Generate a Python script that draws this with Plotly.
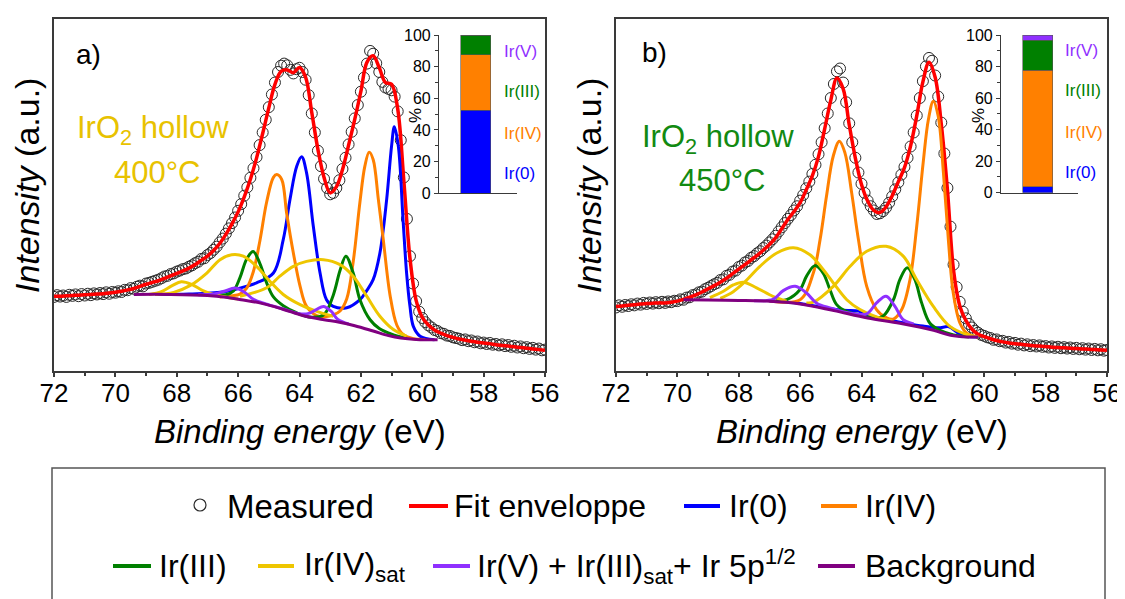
import plotly.graph_objects as go

W, H = 1125, 599
OFF = 8  # page body margin of the browser
def X(px): return (px - OFF) / W
def Y(py): return 1 - (py - OFF) / H

FONT = "Liberation Sans, Arial, sans-serif"
BLUE, ORANGE, GREEN, YELLOW = "#0000FF", "#FF8000", "#008000", "#EEC600"
VIOLET, PURPLE, RED = "#9030FF", "#800080", "#FF0000"

# ---------------- data ----------------
energy = [round(72 - 0.1 * i, 1) for i in range(161)]       # measured grid (eV)
fit_energy = [round(72 - 0.2 * i, 1) for i in range(81)]    # fit grid (eV)

measured_a = [21.0, 21.5, 21.1, 21.4, 21.0, 21.6, 21.3, 21.7, 21.2, 21.8,
              21.4, 21.9, 21.5, 22.0, 21.7, 22.1, 21.8, 22.3, 21.9, 22.4,
              22.2, 22.6, 22.4, 23.0, 22.9, 23.5, 23.3, 23.9, 24.2, 24.0,
              24.8, 25.0, 25.3, 25.6, 25.9, 26.3, 26.8, 27.0, 27.5, 27.7,
              28.2, 28.5, 28.9, 29.1, 29.6, 30.0, 30.6, 31.0, 31.8, 32.0,
              32.9, 33.5, 34.4, 35.3, 36.5, 37.6, 39.0, 40.5, 42.0, 43.6,
              45.5, 47.4, 49.8, 52.2, 54.9, 57.6, 60.8, 64.2, 67.8, 71.4,
              75.0, 78.6, 82.0, 85.0, 86.8, 87.4, 86.9, 85.6, 84.6, 85.8,
              86.2, 85.0, 82.8, 78.4, 73.2, 67.8, 62.6, 58.2, 54.6, 52.0,
              50.2, 50.6, 52.0, 54.2, 57.4, 60.6, 64.4, 68.0, 71.8, 75.6,
              79.4, 83.4, 87.4, 91.0, 90.2, 87.5, 85.0, 82.2, 80.6, 80.2,
              79.8, 78.0, 73.8, 65.6, 55.0, 43.2, 32.6, 24.8, 19.8, 16.8,
              15.0, 13.8, 12.9, 12.3, 11.6, 11.3, 10.7, 10.5, 10.0, 9.9,
              9.5, 9.3, 9.1, 8.7, 8.9, 8.4, 8.6, 8.1, 8.3, 7.8,
              8.0, 7.6, 7.9, 7.4, 7.6, 7.2, 7.5, 7.0, 7.3, 6.8,
              7.1, 6.6, 6.9, 6.4, 6.7, 6.2, 6.5, 6.0, 6.3, 5.8,
              6.0]
fit_a = [21.2, 21.2, 21.3, 21.4, 21.5, 21.6, 21.7, 21.8, 21.9, 22.1,
         22.3, 22.6, 23.0, 23.4, 24.0, 24.6, 25.1, 25.6, 26.3, 27.0,
         27.7, 28.4, 29.2, 30.2, 31.4, 32.6, 34.2, 36.2, 38.8, 41.8,
         45.2, 49.5, 54.5, 60.5, 67.5, 74.8, 81.5, 85.2, 85.6, 84.8,
         86.3, 83.5, 73.5, 63.0, 55.0, 50.6, 52.3, 57.2, 64.2, 71.5,
         79.5, 87.8, 89.6, 86.2, 82.0, 81.5, 74.5, 54.0, 32.0, 20.0,
         15.2, 13.0, 11.6, 10.7, 10.0, 9.5, 9.0, 8.7, 8.4, 8.1,
         7.9, 7.7, 7.4, 7.2, 7.0, 6.8, 6.6, 6.4, 6.2, 6.0,
         5.8]

measured_b = [18.0, 18.6, 18.2, 18.7, 18.4, 18.9, 18.6, 19.1, 18.8, 19.3,
              19.0, 19.4, 19.1, 19.5, 19.2, 19.6, 19.3, 19.7, 19.5, 19.9,
              19.8, 20.3, 20.2, 20.8, 20.9, 21.5, 21.7, 22.3, 22.5, 23.2,
              23.6, 24.1, 24.6, 25.0, 25.8, 26.0, 27.0, 27.3, 28.2, 28.5,
              29.5, 29.9, 30.8, 31.2, 32.1, 32.6, 33.4, 34.0, 34.9, 35.6,
              36.5, 37.4, 38.4, 39.6, 40.8, 42.0, 43.2, 44.3, 45.6, 46.8,
              48.4, 50.0, 51.9, 53.8, 56.0, 58.6, 61.6, 65.0, 69.0, 73.2,
              77.6, 81.6, 85.2, 86.0, 82.0, 76.4, 70.4, 65.0, 60.6, 56.4,
              53.2, 50.6, 48.4, 46.8, 45.6, 44.6, 44.8, 45.4, 46.4, 47.8,
              49.6, 51.6, 53.6, 55.8, 58.0, 60.6, 63.8, 67.8, 72.6, 77.6,
              82.4, 86.6, 89.0, 88.2, 84.0, 78.0, 70.6, 61.8, 52.0, 41.0,
              30.2, 23.8, 19.6, 16.8, 14.9, 13.3, 12.3, 11.4, 10.8, 10.2,
              9.9, 9.5, 9.3, 8.8, 8.9, 8.4, 8.5, 8.0, 8.2, 7.7,
              7.9, 7.4, 7.7, 7.2, 7.5, 7.0, 7.3, 6.9, 7.2, 6.8,
              7.0, 6.6, 6.9, 6.5, 6.8, 6.4, 6.7, 6.3, 6.6, 6.2,
              6.5, 6.1, 6.4, 6.0, 6.3, 5.9, 6.2, 5.8, 6.1, 5.7,
              5.9]
fit_b = [18.3, 18.4, 18.6, 18.8, 19.0, 19.1, 19.2, 19.3, 19.3, 19.5,
         19.8, 20.3, 20.9, 21.6, 22.4, 23.3, 24.2, 25.2, 26.3, 27.6,
         28.9, 30.2, 31.5, 32.8, 34.3, 35.9, 37.8, 40.4, 43.0, 45.3,
         47.8, 51.5, 55.5, 61.0, 68.8, 77.0, 83.3, 80.3, 70.0, 60.5,
         53.0, 48.3, 45.6, 45.0, 46.6, 49.8, 53.8, 57.8, 64.0, 72.5,
         82.2, 87.8, 83.5, 70.2, 51.5, 28.5, 18.5, 14.3, 11.8, 10.4,
         9.7, 9.1, 8.6, 8.2, 7.9, 7.7, 7.5, 7.3, 7.1, 7.0,
         6.9, 6.7, 6.6, 6.5, 6.4, 6.3, 6.2, 6.1, 6.0, 5.9,
         5.8]

# ---- fitted components, panel a (400 °C) ----
ir0_a_x = [68.7, 67.6, 66.5, 65.95, 65.4, 64.85, 64.53, 64.31, 64.09, 63.93, 63.77, 63.55, 63.33,
           63.12, 62.9, 62.46, 62.03, 61.81, 61.6, 61.38, 61.16, 61.0, 60.91, 60.78, 60.62, 60.51,
           60.4, 60.29, 60.07, 59.6]
ir0_a_y = [21.7, 21.8, 22.4, 23.5, 25.0, 27.8, 37.3, 48.7, 58.2, 60.9, 56.3, 41.1, 27.8,
           20.2, 18.3, 17.9, 20.2, 22.8, 25.9, 33.5, 48.7, 63.9, 69.4, 63.9, 42.1, 27.8,
           18.3, 12.6, 9.8, 8.8]
ir4_a_x = [66.6, 66.2, 65.94, 65.72, 65.51, 65.29, 65.07, 64.85, 64.74, 64.58, 64.42, 64.2, 63.98,
           63.77, 63.44, 63.12, 62.9, 62.68, 62.46, 62.25, 62.03, 61.87, 61.73, 61.6, 61.43, 61.27,
           61.05, 60.83, 60.62, 60.29, 59.9]
ir4_a_y = [21.0, 21.3, 21.8, 23.5, 28.0, 37.0, 48.0, 55.0, 55.8, 54.4, 44.9, 33.5, 24.0,
           18.3, 15.7, 15.4, 15.9, 17.0, 20.5, 31.0, 48.0, 58.2, 62.2, 60.1, 48.7, 37.3,
           21.5, 13.0, 10.3, 9.1, 8.9]
ir3_a_x = [66.8, 66.4, 66.16, 65.94, 65.72, 65.51, 65.29, 65.07, 64.85, 64.53, 64.1, 63.6, 63.2,
           62.9, 62.68, 62.49, 62.25, 62.03, 61.7, 61.4, 61.0, 60.5]
ir3_a_y = [21.5, 21.6, 22.6, 26.5, 31.8, 33.9, 30.5, 25.0, 21.0, 18.5, 16.5, 15.2, 16.0,
           21.5, 28.5, 32.6, 27.8, 20.2, 14.5, 12.0, 10.4, 9.2]
sat1_a_x = [68.9, 68.5, 68.15, 67.85, 67.5, 67.15, 66.8, 66.4, 66.0]
sat1_a_y = [21.7, 22.5, 24.2, 25.3, 24.5, 22.8, 21.7, 21.0, 20.4]
sat2_a_x = [68.7, 68.1, 67.57, 67.02, 66.59, 66.21, 65.83, 65.40, 64.96, 64.53, 63.98, 63.44, 62.9]
sat2_a_y = [21.7, 22.3, 24.2, 27.8, 31.6, 33.0, 32.6, 29.7, 25.4, 21.7, 18.8, 16.9, 15.5]
sat3_a_x = [65.94, 65.07, 64.64, 64.20, 63.77, 63.22, 62.68, 62.25, 61.81, 61.38, 60.94, 60.51]
sat3_a_y = [21.2, 23.6, 26.9, 29.7, 31.1, 31.6, 30.2, 26.9, 21.2, 15.5, 11.7, 9.8]
ir5_a_x = [67.3, 66.8, 66.45, 66.1, 65.8, 65.5, 65.1, 64.5, 64.0, 63.7, 63.45, 63.22, 62.98, 62.75, 62.4]
ir5_a_y = [21.6, 21.8, 22.6, 23.5, 22.4, 20.3, 19.0, 17.5, 16.2, 16.3, 17.4, 18.3, 17.0, 14.6, 13.3]
bg_a_x = [69.4, 68.2, 67.0, 66.4, 65.9, 65.3, 64.85, 64.3, 63.8, 63.2, 62.7, 62.2, 61.6, 61.1, 60.7, 60.2, 59.5]
bg_a_y = [21.7, 21.7, 21.4, 20.9, 20.2, 19.3, 18.3, 16.8, 15.5, 14.5, 13.8, 12.8, 11.3, 10.0, 9.3, 8.9, 8.8]

# ---- fitted components, panel b (450 °C) ----
ir0_b_x = [67.0, 66.0, 65.2, 64.6, 64.1, 63.7, 63.2, 62.6, 62.0, 61.5, 61.15, 60.9, 60.6, 60.2]
ir0_b_y = [19.8, 19.1, 17.9, 17.2, 17.0, 15.6, 14.6, 13.6, 12.7, 12.2, 12.5, 11.0, 9.8, 9.6]
ir4_b_x = [67.0, 66.0, 65.57, 65.35, 65.14, 64.92, 64.72, 64.54, 64.32, 64.10, 63.83, 63.51, 63.18,
           62.96, 62.69, 62.42, 62.20, 61.99, 61.82, 61.66, 61.50, 61.33, 61.17, 61.01, 60.79, 60.57, 60.2]
ir4_b_y = [19.9, 20.2, 27.8, 37.3, 49.7, 61.1, 65.3, 62.0, 50.6, 37.3, 24.0, 17.4, 15.0,
           14.7, 17.4, 25.9, 41.1, 59.2, 71.5, 76.7, 72.4, 56.3, 37.3, 22.1, 13.5, 10.7, 9.6]
ir3_b_x = [66.8, 66.44, 66.0, 65.79, 65.52, 65.25, 65.03, 64.81, 64.48, 64.0, 63.6, 63.29, 62.96,
           62.75, 62.51, 62.26, 62.04, 61.77, 61.44, 61.0, 60.5]
ir3_b_y = [19.9, 20.2, 23.1, 26.9, 29.9, 27.8, 23.1, 18.8, 16.8, 15.8, 15.0, 15.6, 20.2,
           25.9, 29.3, 25.9, 19.3, 13.5, 11.5, 10.2, 9.6]
sat1_b_x = [68.94, 68.5, 68.18, 67.85, 67.42, 66.87, 66.44]
sat1_b_y = [20.8, 22.6, 24.4, 25.2, 23.6, 21.1, 19.8]
sat2_b_x = [68.6, 68.18, 67.8, 67.31, 66.76, 66.22, 65.68, 65.25, 64.92, 64.48, 64.05, 63.51, 63.0]
sat2_b_y = [20.6, 22.5, 25.3, 29.7, 33.5, 35.0, 33.0, 28.8, 25.0, 20.2, 17.4, 15.3, 14.2]
sat3_b_x = [65.8, 65.57, 64.92, 64.37, 63.83, 63.20, 62.64, 62.20, 61.66, 61.12, 60.57, 60.2]
sat3_b_y = [19.3, 19.5, 24.0, 29.7, 34.0, 35.4, 32.6, 25.9, 18.3, 12.6, 10.3, 9.6]
ir5_b_x = [67.5, 66.87, 66.55, 66.16, 65.79, 65.46, 65.0, 64.4, 63.83, 63.51, 63.20, 62.91, 62.64, 62.3]
ir5_b_y = [19.9, 20.4, 22.8, 24.0, 22.1, 19.2, 17.8, 16.4, 16.2, 19.3, 21.2, 18.3, 14.5, 13.3]
bg_b_x = [69.8, 69.0, 68.0, 67.1, 66.0, 64.9, 63.8, 62.75, 61.65, 61.1, 60.55, 60.2]
bg_b_y = [20.2, 20.1, 20.0, 19.8, 19.0, 17.1, 15.0, 13.5, 11.5, 10.1, 9.6, 9.6]

# ---- inset compositions (%) ----
species = ["Ir(0)", "Ir(IV)", "Ir(III)", "Ir(V)"]
species_colors = [BLUE, ORANGE, GREEN, VIOLET]
share_a = [52.6, 34.8, 12.6, 0.0]
share_b = [3.8, 73.8, 19.2, 3.2]

# ---------------- figure ----------------
fig = go.Figure()

def add_panel(xa, ya, meas, fit, comps):
    fig.add_trace(go.Scatter(x=energy, y=meas, mode="markers", xaxis=xa, yaxis=ya,
                             marker=dict(symbol="circle-open", size=11, color="#2a2a2a",
                                         line=dict(width=1)), showlegend=False))
    fig.add_trace(go.Scatter(x=fit_energy, y=fit, mode="lines", xaxis=xa, yaxis=ya,
                             line=dict(color=RED, width=3.5, shape="spline"), showlegend=False))
    for cx, cy, col in comps:
        fig.add_trace(go.Scatter(x=cx, y=cy, mode="lines", xaxis=xa, yaxis=ya,
                                 line=dict(color=col, width=3, shape="spline", smoothing=1.0),
                                 showlegend=False))

add_panel("x", "y", measured_a, fit_a, [
    (ir0_a_x, ir0_a_y, BLUE), (ir4_a_x, ir4_a_y, ORANGE), (ir3_a_x, ir3_a_y, GREEN),
    (sat1_a_x, sat1_a_y, YELLOW), (sat2_a_x, sat2_a_y, YELLOW), (sat3_a_x, sat3_a_y, YELLOW),
    (ir5_a_x, ir5_a_y, VIOLET), (bg_a_x, bg_a_y, PURPLE)])
add_panel("x2", "y2", measured_b, fit_b, [
    (ir0_b_x, ir0_b_y, BLUE), (ir4_b_x, ir4_b_y, ORANGE), (ir3_b_x, ir3_b_y, GREEN),
    (sat1_b_x, sat1_b_y, YELLOW), (sat2_b_x, sat2_b_y, YELLOW), (sat3_b_x, sat3_b_y, YELLOW),
    (ir5_b_x, ir5_b_y, VIOLET), (bg_b_x, bg_b_y, PURPLE)])

for xa, ya, shares in (("x3", "y3", share_a), ("x4", "y4", share_b)):
    for name, val, col in zip(species, shares, species_colors):
        fig.add_trace(go.Bar(x=[0], y=[val], width=1.0, xaxis=xa, yaxis=ya, name=name,
                             marker=dict(color=col, line=dict(color="#555555", width=0.6)),
                             showlegend=False))

AX = "#3a3a3a"
main_x = dict(range=[72, 56], tickmode="linear", tick0=56, dtick=2, ticks="outside", ticklen=5,
              tickwidth=1.5, tickcolor=AX, showline=True, linecolor=AX, linewidth=1.5, mirror=True,
              showgrid=False, zeroline=False, automargin=False, ticklabelstandoff=-7,
              tickfont=dict(family=FONT, size=26, color="black"),
              minor=dict(dtick=1, ticks="outside", ticklen=3.5, tickwidth=1.5, tickcolor=AX))
main_y = dict(range=[0, 100], showticklabels=False, ticks="", showline=True, linecolor=AX,
              linewidth=1.5, mirror=True, showgrid=False, zeroline=False, automargin=False)
ins_x = dict(showline=True, linecolor=AX, linewidth=1.2, ticks="", showticklabels=False,
             showgrid=False, zeroline=False, fixedrange=True, automargin=False)
ins_y = dict(range=[0, 100], tickmode="linear", tick0=0, dtick=20, ticks="outside", ticklen=4,
             tickwidth=1.2, tickcolor=AX, showline=True, linecolor=AX, linewidth=1.2,
             showgrid=False, zeroline=False, automargin=False,
             tickfont=dict(family=FONT, size=16, color="black"),
             minor=dict(dtick=10, ticks="outside", ticklen=2.5, tickwidth=1.2, tickcolor=AX))

fig.update_layout(
    width=W, height=H, margin=dict(l=0, r=0, t=0, b=0, autoexpand=False),
    paper_bgcolor="white", plot_bgcolor="rgba(0,0,0,0)", barmode="stack", showlegend=False,
    font=dict(family=FONT, color="black"),
    xaxis=dict(main_x, domain=[X(54), X(545)], anchor="y"),
    yaxis=dict(main_y, domain=[Y(370.7), Y(19.3)], anchor="x"),
    xaxis2=dict(main_x, domain=[X(616), X(1107)], anchor="y2"),
    yaxis2=dict(main_y, domain=[Y(370.7), Y(19.3)], anchor="x2"),
    xaxis3=dict(ins_x, domain=[X(439), X(517)], range=[-1.22, 1.37], anchor="y3"),
    yaxis3=dict(ins_y, domain=[Y(193.3), Y(35)], anchor="x3"),
    xaxis4=dict(ins_x, domain=[X(1001), X(1078)], range=[-1.22, 1.33], anchor="y4"),
    yaxis4=dict(ins_y, domain=[Y(192.7), Y(35)], anchor="x4"),
)

ann = []
def text(px, py, s, size, color="black", xanchor="center", angle=0):
    ann.append(dict(x=X(px), y=Y(py), xref="paper", yref="paper", text=s, showarrow=False,
                    xanchor=xanchor, yanchor="middle", textangle=angle,
                    font=dict(family=FONT, size=size, color=color)))

# panel labels and sample names
text(88, 54, "a)", 28)
text(654, 52, "b)", 28)
text(153, 130, "IrO<sub>2</sub> hollow", 31, "#E8C200")
text(157, 172, "400°C", 31, "#E8C200")
text(718, 139, "IrO<sub>2</sub> hollow", 31, "#128A12")
text(722, 181, "450°C", 31, "#128A12")
# axis titles
for cx, yx in ((299.5, 27), (861.5, 589)):
    text(cx, 432, "<i>Binding energy</i> (eV)", 33)
    text(yx, 186, "<i>Intensity</i> (a.u.)", 34, angle=-90)
# inset "%" titles
text(416, 116, "%", 17, angle=-90)
text(979, 116, "%", 17, angle=-90)
# inset labels
for lx, yr, ys in ((502, "y3", (89.4, 64.2, 37.9, 12.6)), (1063, "y4", (90.0, 64.6, 38.3, 12.7))):
    for lab, col, yy in zip(["Ir(V)", "Ir(III)", "Ir(IV)", "Ir(0)"],
                            [VIOLET, GREEN, ORANGE, BLUE], ys):
        ann.append(dict(x=X(lx), y=yy, xref="paper", yref=yr, text=lab, showarrow=False,
                        xanchor="left", yanchor="middle",
                        font=dict(family=FONT, size=17, color=col)))

# manual legend
shapes = [dict(type="rect", xref="paper", yref="paper", x0=X(52), x1=X(1105), y0=Y(640), y1=Y(468),
               line=dict(color="#555555", width=1.5), fillcolor="rgba(0,0,0,0)")]
shapes.append(dict(type="circle", xref="paper", yref="paper", x0=X(194), x1=X(206),
                   y0=Y(511), y1=Y(499), line=dict(color="#2a2a2a", width=1.2)))
text(225, 506, "Measured", 33, xanchor="left")
legend_rows = [
    (506, [(409, 448, RED, "Fit enveloppe", 452), (684, 720, BLUE, "Ir(0)", 727),
           (821, 857, ORANGE, "Ir(IV)", 863)]),
    (566, [(113, 151, GREEN, "Ir(III)", 157), (258, 294, YELLOW, "Ir(IV)<sub>sat</sub>", 302),
           (433, 470, VIOLET, "Ir(V) + Ir(III)<sub>sat</sub>+ Ir 5p<sup>1/2</sup>", 475),
           (818, 855, PURPLE, "Background", 863)]),
]
for py, items in legend_rows:
    for x0, x1, col, lab, tx in items:
        shapes.append(dict(type="line", xref="paper", yref="paper", x0=X(x0), x1=X(x1),
                           y0=Y(py), y1=Y(py), line=dict(color=col, width=4)))
        text(tx, py, lab, 32, xanchor="left")

fig.update_layout(annotations=ann, shapes=shapes)
fig.write_html("out.html")
